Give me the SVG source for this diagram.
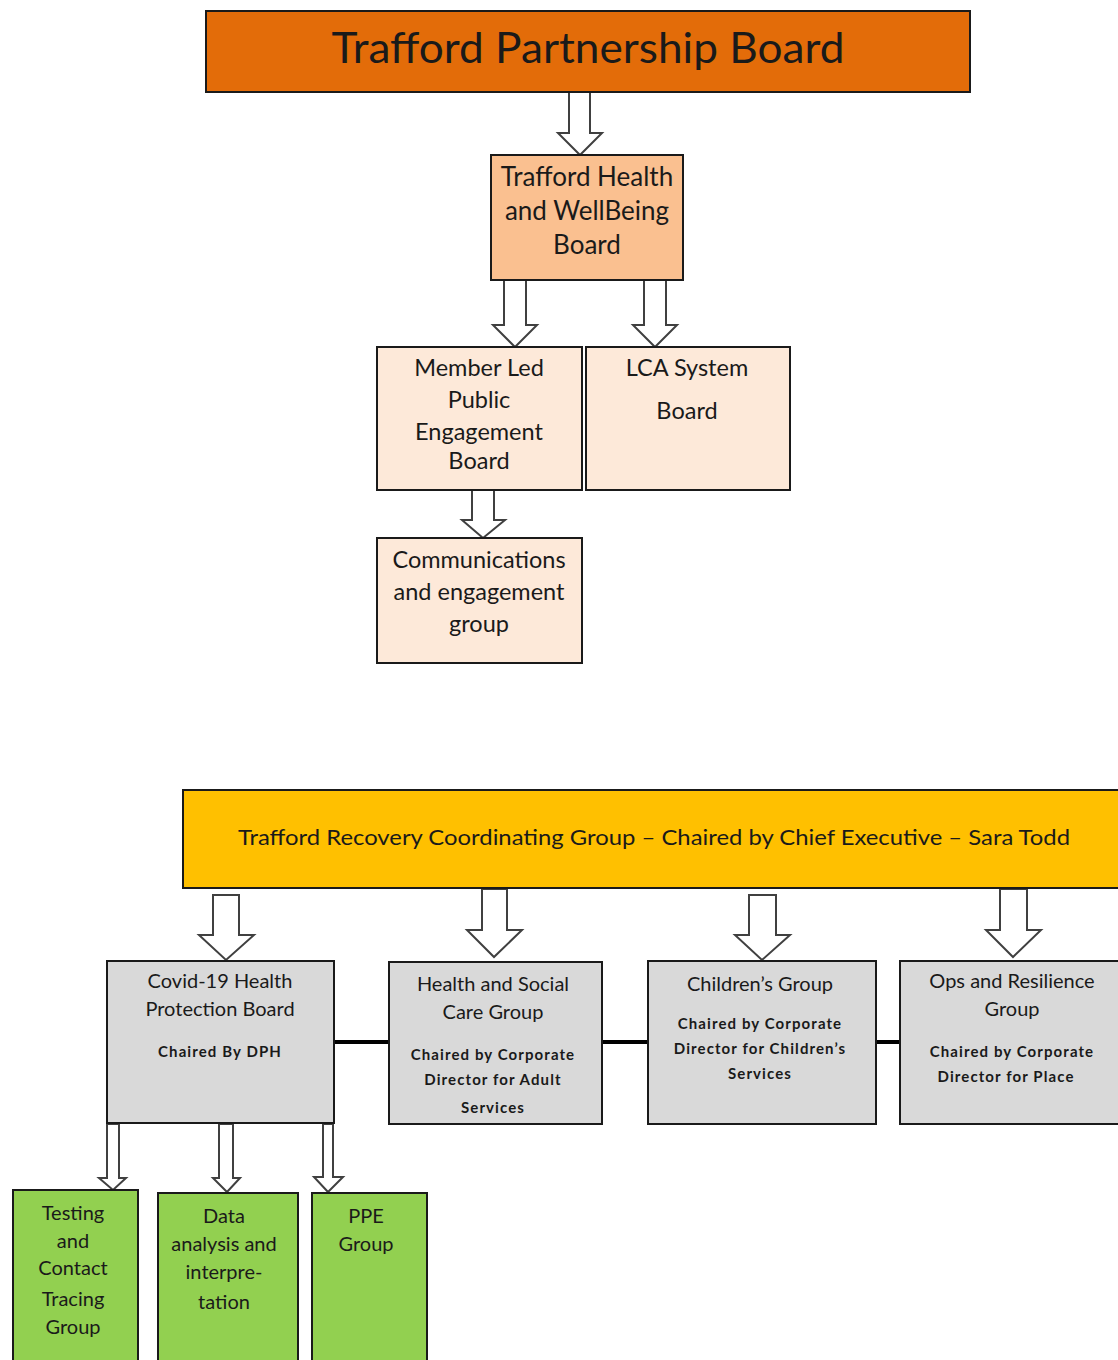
<svg xmlns="http://www.w3.org/2000/svg" width="1118" height="1360" viewBox="0 0 1118 1360">
<style>
.box{stroke:#1a1a1a;stroke-width:2}
.orange{fill:#E36C09}
.peach{fill:#FAC090}
.light{fill:#FDE9D9}
.yellow{fill:#FFC000}
.grey{fill:#D9D9D9}
.green{fill:#92D050}
text{font-family:Lato,"Open Sans","Liberation Sans",sans-serif;fill:#1a1a1a;text-anchor:middle}
.t24{font-size:26px}
.t22{font-size:23.5px}
.t18{font-size:20px}
.sub{font-size:15px;font-weight:bold;letter-spacing:1.1px}
.arrow{fill:#fff;stroke:#404040;stroke-width:2;stroke-linejoin:miter}
.link{stroke:#000;stroke-width:4;fill:none}
</style>
<rect width="1118" height="1360" fill="#fff"/>

<g id="connectors">
  <path class="arrow" d="M569 92 L590 92 L590 133 L602 133 L580 155 L558 133 L569 133 Z"/>
  <path class="arrow" d="M504 280 L526 280 L526 325 L537 325 L515 347 L493 325 L504 325 Z"/>
  <path class="arrow" d="M644 280 L666 280 L666 325 L677 325 L655 347 L633 325 L644 325 Z"/>
  <path class="arrow" d="M472 490 L494 490 L494 520 L505 520 L483 538 L462 520 L472 520 Z"/>
  <path class="arrow" d="M213 895 L239 895 L239 935 L254 935 L226 960 L199 935 L213 935 Z"/>
  <path class="arrow" d="M482 889 L507 889 L507 930 L522 930 L494 957 L467 930 L482 930 Z"/>
  <path class="arrow" d="M749 895 L776 895 L776 935 L790 935 L762 960 L735 935 L749 935 Z"/>
  <path class="arrow" d="M1000 889 L1027 889 L1027 930 L1041 930 L1013 957 L986 930 L1000 930 Z"/>
  <path class="arrow" d="M107 1124 L119 1124 L119 1178 L126 1178 L113 1190 L99 1178 L107 1178 Z"/>
  <path class="arrow" d="M219 1124 L233 1124 L233 1178 L240 1178 L227 1192 L213 1178 L219 1178 Z"/>
  <path class="arrow" d="M323 1124 L333 1124 L333 1177 L343 1177 L328 1192 L314 1177 L323 1177 Z"/>
  <line class="link" x1="334" y1="1042" x2="389" y2="1042"/>
  <line class="link" x1="602" y1="1042" x2="648" y2="1042"/>
  <line class="link" x1="876" y1="1042" x2="900" y2="1042"/>
</g>

<g id="trafford-partnership-board">
  <rect class="box orange" x="206" y="11" width="764" height="81"/>
  <text x="588" y="63" font-size="42" textLength="513" lengthAdjust="spacingAndGlyphs">Trafford Partnership Board</text>
</g>

<g id="health-wellbeing-board">
  <rect class="box peach" x="491" y="155" width="192" height="125"/>
  <text class="t24" x="587" y="186">Trafford Health</text>
  <text class="t24" x="587" y="220">and WellBeing</text>
  <text class="t24" x="587" y="254">Board</text>
</g>

<g id="member-led-board">
  <rect class="box light" x="377" y="347" width="205" height="143"/>
  <text class="t22" x="479" y="376">Member Led</text>
  <text class="t22" x="479" y="408">Public</text>
  <text class="t22" x="479" y="440">Engagement</text>
  <text class="t22" x="479" y="469">Board</text>
</g>

<g id="lca-system-board">
  <rect class="box light" x="586" y="347" width="204" height="143"/>
  <text class="t22" x="687" y="376">LCA System</text>
  <text class="t22" x="687" y="419">Board</text>
</g>

<g id="communications-group">
  <rect class="box light" x="377" y="538" width="205" height="125"/>
  <text class="t22" x="479" y="568">Communications</text>
  <text class="t22" x="479" y="600">and engagement</text>
  <text class="t22" x="479" y="632">group</text>
</g>

<g id="recovery-coordinating-group">
  <rect class="box yellow" x="183" y="790" width="940" height="98"/>
  <text x="654" y="845" font-size="21" textLength="832" lengthAdjust="spacingAndGlyphs">Trafford Recovery  Coordinating Group – Chaired  by Chief Executive  – Sara Todd</text>
</g>

<g id="covid-health-protection-board">
  <rect class="box grey" x="107" y="961" width="227" height="162"/>
  <text class="t18" x="220" y="988">Covid-19 Health</text>
  <text class="t18" x="220" y="1016">Protection Board</text>
  <text class="sub" x="220" y="1057">Chaired  By DPH</text>
</g>

<g id="health-social-care-group">
  <rect class="box grey" x="389" y="962" width="213" height="162"/>
  <text class="t18" x="493" y="991">Health and Social</text>
  <text class="t18" x="493" y="1019">Care Group</text>
  <text class="sub" x="493" y="1060">Chaired  by Corporate</text>
  <text class="sub" x="493" y="1085">Director  for Adult</text>
  <text class="sub" x="493" y="1113">Services</text>
</g>

<g id="childrens-group">
  <rect class="box grey" x="648" y="961" width="228" height="163"/>
  <text class="t18" x="760" y="991">Children’s Group</text>
  <text class="sub" x="760" y="1029">Chaired by Corporate</text>
  <text class="sub" x="760" y="1054">Director for Children’s</text>
  <text class="sub" x="760" y="1079">Services</text>
</g>

<g id="ops-resilience-group">
  <rect class="box grey" x="900" y="961" width="230" height="163"/>
  <text class="t18" x="1012" y="988">Ops and Resilience</text>
  <text class="t18" x="1012" y="1016">Group</text>
  <text class="sub" x="1012" y="1057">Chaired by Corporate</text>
  <text class="sub" x="1006" y="1082">Director for Place</text>
</g>

<g id="testing-contact-tracing-group">
  <rect class="box green" x="13" y="1190" width="125" height="180"/>
  <text class="t18" x="73" y="1220">Testing</text>
  <text class="t18" x="73" y="1248">and</text>
  <text class="t18" x="73" y="1275">Contact</text>
  <text class="t18" x="73" y="1306">Tracing</text>
  <text class="t18" x="73" y="1334">Group</text>
</g>

<g id="data-analysis-group">
  <rect class="box green" x="158" y="1193" width="140" height="180"/>
  <text class="t18" x="224" y="1223">Data</text>
  <text class="t18" x="224" y="1251">analysis and</text>
  <text class="t18" x="224" y="1279">interpre-</text>
  <text class="t18" x="224" y="1309">tation</text>
</g>

<g id="ppe-group">
  <rect class="box green" x="312" y="1193" width="115" height="180"/>
  <text class="t18" x="366" y="1223">PPE</text>
  <text class="t18" x="366" y="1251">Group</text>
</g>
</svg>
